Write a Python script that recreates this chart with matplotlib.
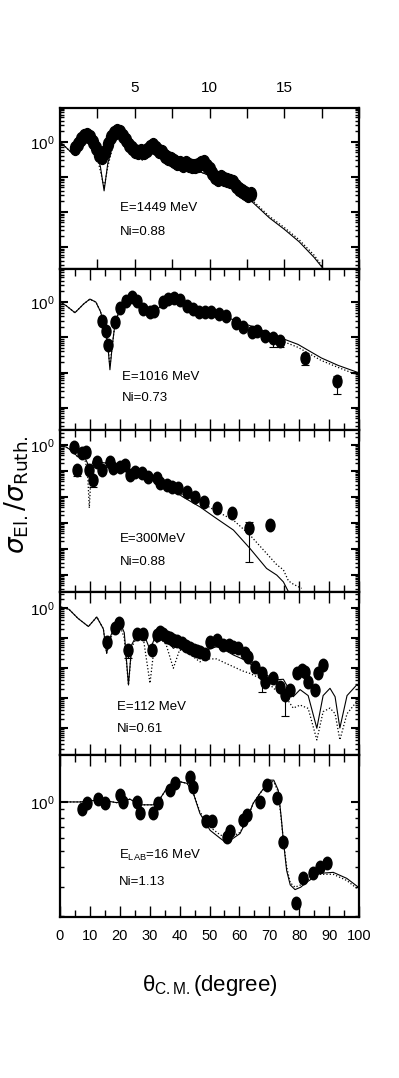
import numpy as np
import matplotlib
matplotlib.use('Agg')
import matplotlib.pyplot as plt
from matplotlib.path import Path
from matplotlib.ticker import MultipleLocator, LogLocator, FuncFormatter, NullFormatter

plt.rcParams['font.family'] = ['Liberation Sans', 'DejaVu Sans']
plt.rcParams['mathtext.fontset'] = 'custom'
plt.rcParams['mathtext.rm'] = 'Liberation Sans'
plt.rcParams['mathtext.it'] = 'Liberation Sans'
plt.rcParams['mathtext.sf'] = 'Liberation Sans'

# ---- E = 1449 MeV (angles on the top scale, 0-20 deg)
x1449 = [1.0, 1.2, 1.4, 1.6, 1.8, 2.0, 2.2, 2.4, 2.6, 2.8, 3.0, 3.2, 3.4, 3.6, 3.8, 4.0,
         4.2, 4.4, 4.6, 4.8, 5.0, 5.2, 5.4, 5.6, 5.8, 6.0, 6.2, 6.4, 6.6, 6.8, 7.0, 7.2,
         7.4, 7.6, 7.8, 8.0, 8.2, 8.4, 8.6, 8.8, 9.0, 9.2, 9.4, 9.6, 9.8, 10.0, 10.2,
         10.4, 10.6, 10.8, 11.0, 11.2, 11.4, 11.6, 11.8, 12.0, 12.2, 12.4, 12.6, 12.8]
y1449 = [0.65, 0.9, 1.2, 1.5, 1.55, 1.4, 1.0, 0.65, 0.42, 0.36, 0.5, 0.9, 1.4, 1.8, 2.0, 1.9,
         1.5, 1.1, 0.8, 0.65, 0.55, 0.5, 0.55, 0.5, 0.6, 0.7, 0.8, 0.65, 0.55, 0.5, 0.4, 0.35,
         0.32, 0.28, 0.25, 0.25, 0.22, 0.25, 0.22, 0.2, 0.2, 0.22, 0.25, 0.26, 0.2, 0.17, 0.13,
         0.1, 0.09, 0.1, 0.09, 0.08, 0.075, 0.07, 0.055, 0.045, 0.04, 0.035, 0.03, 0.032]
c1449_x = [0, 0.4, 0.8, 1.2, 1.6, 2.0, 2.4, 2.7, 2.95, 3.2, 3.6, 4.0, 4.5, 5.0, 5.5, 6.0,
           6.5, 7.0, 8.0, 9.0, 10.0, 11.0, 12.0, 13.0, 14.0, 15.0, 16.0, 17.0, 17.6]
c1449_s = [1.0, 0.7, 0.48, 0.8, 1.35, 1.2, 0.55, 0.2, 0.04, 0.25, 1.0, 1.8, 1.3, 0.6, 0.3, 0.5,
           0.55, 0.4, 0.24, 0.16, 0.11, 0.07, 0.042, 0.017, 0.0068, 0.0032, 0.0014, 0.0005, 0.00024]
c1449_d = [1.0, 0.7, 0.48, 0.8, 1.3, 1.15, 0.5, 0.15, 0.05, 0.2, 0.95, 1.75, 1.3, 0.6, 0.32, 0.5,
           0.55, 0.4, 0.24, 0.16, 0.11, 0.072, 0.045, 0.019, 0.0075, 0.0036, 0.0016, 0.00058, 0.00026]

# ---- E = 1016 MeV
x1016 = [14.2, 15.3, 16.2, 18.4, 20.1, 22.1, 24.0, 25.6, 27.9, 30.1, 31.4, 34.6, 36.2, 38.1,
         40.1, 42.4, 44.6, 46.5, 48.5, 50.4, 53.2, 55.5, 58.8, 61.3, 64.1, 66.0, 68.6, 71.4,
         73.6, 81.9, 92.5]
y1016 = [0.29, 0.15, 0.059, 0.27, 0.70, 1.09, 1.36, 1.09, 0.63, 0.51, 0.56, 0.98, 1.22, 1.27,
         1.16, 0.79, 0.63, 0.53, 0.53, 0.53, 0.45, 0.41, 0.26, 0.2, 0.14, 0.15, 0.11, 0.098,
         0.078, 0.026, 0.0056]
e1016_x = [71.4, 73.6, 81.9, 92.5]
e1016_y = [0.098, 0.078, 0.026, 0.0056]
e1016_lo = [0.054, 0.054, 0.016, 0.0025]
e1016_hi = [0.098, 0.078, 0.026, 0.0082]
c1016_x = [0, 2, 5, 8, 10, 12, 13.5, 15, 16, 16.7, 17.5, 18.4, 20, 21.2, 24, 26.8, 28.5, 30.7,
           32.5, 34.6, 38, 42, 46, 50, 55, 57.3, 62, 68.4, 74, 79.6, 87.4, 93, 100]
c1016_s = [1.0, 0.8, 0.5, 0.9, 1.22, 1.0, 0.55, 0.2, 0.06, 0.012, 0.06, 0.25, 0.65, 0.9, 1.3,
           1.0, 0.7, 0.45, 0.6, 0.98, 1.3, 0.85, 0.6, 0.52, 0.42, 0.33, 0.24, 0.15, 0.095,
           0.063, 0.026, 0.016, 0.0098]
c1016_d = [1.0, 0.8, 0.5, 0.9, 1.2, 1.0, 0.55, 0.2, 0.06, 0.015, 0.06, 0.25, 0.6, 0.85, 1.25,
           0.95, 0.65, 0.38, 0.55, 0.9, 1.2, 0.8, 0.55, 0.48, 0.38, 0.3, 0.21, 0.13, 0.08,
           0.052, 0.022, 0.014, 0.0082]

# ---- E = 300 MeV
x300 = [4.7, 5.8, 7.2, 8.7, 9.8, 10.9, 12.3, 13.9, 16.7, 17.8, 20.1, 21.7, 23.4, 25.1, 27.3,
        29.5, 32.3, 33.4, 35.7, 37.4, 39.6, 42.4, 45.2, 48.2, 52.6, 57.6, 63.3, 70.2]
y300 = [0.86, 0.11, 0.48, 0.55, 0.11, 0.045, 0.23, 0.11, 0.23, 0.13, 0.15, 0.17, 0.07, 0.094,
        0.081, 0.06, 0.052, 0.034, 0.029, 0.025, 0.022, 0.016, 0.01, 0.0066, 0.0037, 0.0025,
        0.00063, 0.00084]
e300_x = [5.8, 10.9, 63.3]
e300_y = [0.11, 0.045, 0.00063]
e300_lo = [0.064, 0.025, 3.2e-5]
e300_hi = [0.15, 0.045, 1.1e-3]
c300_x = [0, 2, 4, 6, 8, 9.2, 9.8, 10.4, 11.5, 13, 16, 20, 25, 30, 35, 41.2, 46.8, 52, 58,
          63.5, 69.1, 72.5, 74.7, 76.4, 78, 80.8]
c300_s = [0.9, 0.85, 0.6, 0.35, 0.4, 0.2, 0.08, 0.15, 0.3, 0.22, 0.2, 0.13, 0.08, 0.05, 0.03,
          0.01, 0.0042, 0.0016, 5.4e-4, 1.07e-4, 1.8e-5, 1e-5, 5.5e-6, 2.3e-6, 1e-6, 5e-7]
c300_d = [0.9, 0.85, 0.6, 0.35, 0.4, 0.1, 0.0038, 0.08, 0.3, 0.22, 0.2, 0.13, 0.08, 0.05, 0.03,
          0.012, 0.0066, 0.003, 0.0013, 3.5e-4, 6.8e-5, 2.5e-5, 1.6e-5, 6e-6, 4.5e-6, 3.1e-6]

# ---- E = 112 MeV
x112 = [15.6, 18.4, 19.8, 22.9, 25.6, 27.9, 30.7, 32.3, 33.4, 34.5, 35.7, 36.8, 37.9, 39.0,
        40.7, 42.0, 43.5, 44.8, 45.8, 46.8, 48.5, 50.2, 52.4, 54.6, 56.5, 58.0, 59.6, 61.9,
        63.0, 65.2, 67.5, 68.6, 71.3, 73.6, 75.3, 76.9, 79.2, 80.8, 82.0, 83.0, 85.3, 86.4, 88.1]
y112 = [0.075, 0.21, 0.31, 0.04, 0.14, 0.14, 0.04, 0.13, 0.16, 0.14, 0.11, 0.1, 0.086, 0.08,
        0.067, 0.055, 0.045, 0.04, 0.038, 0.035, 0.03, 0.075, 0.086, 0.058, 0.06, 0.051, 0.047,
        0.031, 0.024, 0.011, 0.0066, 0.0035, 0.0045, 0.0024, 0.0013, 0.0019, 0.0066, 0.0086,
        0.0075, 0.0035, 0.0019, 0.0066, 0.0126]
e112_x = [22.9, 67.5, 75.3]
e112_y = [0.04, 0.0066, 0.0013]
e112_lo = [0.022, 0.0016, 2.5e-4]
e112_hi = [0.04, 0.0066, 0.0013]
c112_x = [0, 3, 6, 9.5, 12.3, 14.5, 15.6, 17, 18.4, 19.8, 21.5, 22.9, 24, 25.6, 28, 30.1,
          31.5, 33.4, 35.5, 37.9, 40, 43, 46.8, 49, 52.4, 55, 58, 61, 63.5, 66, 69.1, 71.7,
          74.7, 78, 80.3, 83, 85.9, 88, 90.3, 92, 93.6, 96, 99.2, 100]
c112_s = [1.1, 0.9, 0.45, 0.24, 0.5, 0.2, 0.031, 0.12, 0.25, 0.37, 0.15, 0.0027, 0.06, 0.12,
          0.14, 0.04, 0.09, 0.14, 0.1, 0.045, 0.06, 0.05, 0.024, 0.04, 0.051, 0.04, 0.027,
          0.02, 0.014, 0.009, 0.0059, 0.004, 0.0042, 0.0011, 0.0019, 0.0012, 9.8e-5, 0.0012,
          0.0021, 0.0011, 1e-4, 0.0012, 0.0027, 0.0025]
c112_d = [1.1, 0.9, 0.45, 0.24, 0.5, 0.2, 0.031, 0.1, 0.2, 0.3, 0.1, 0.0027, 0.05, 0.1, 0.08,
          0.0031, 0.05, 0.1, 0.06, 0.0098, 0.04, 0.031, 0.016, 0.02, 0.02, 0.015, 0.011, 0.008,
          0.0066, 0.005, 0.0035, 0.002, 0.0014, 4.6e-4, 5.8e-4, 4.5e-4, 4e-5, 3.5e-4, 4.6e-4,
          3e-4, 4e-5, 3e-4, 7.5e-4, 7.5e-4]

# ---- E_LAB = 16 MeV
x16 = [7.2, 8.9, 12.8, 15.1, 20.1, 21.2, 25.6, 26.8, 31.2, 32.9, 36.8, 38.5, 43.5, 44.6, 48.8,
       50.7, 55.7, 56.9, 61.3, 62.4, 66.9, 69.1, 72.5, 74.7, 78.9, 81.2, 84.7, 87.0, 89.2]
y16 = [0.91, 0.98, 1.04, 0.98, 1.1, 1.0, 1.0, 0.85, 0.85, 0.98, 1.18, 1.3, 1.43, 1.24, 0.76,
       0.76, 0.61, 0.66, 0.78, 0.83, 1.0, 1.27, 1.05, 0.57, 0.24, 0.34, 0.365, 0.4, 0.42]
c16_x = [0, 6.7, 13.4, 19, 23.4, 26.8, 31.2, 33.5, 35.7, 40.1, 42.5, 44.6, 46.8, 50.2, 53.5,
         55.7, 58, 60.2, 62.5, 64.6, 66.9, 70.2, 71.5, 73, 74, 74.7, 75.8, 77, 78.6, 80.5,
         82.3, 86.9, 91.4, 95.9, 99.8]
c16_s = [1.0, 1.0, 1.03, 0.99, 1.04, 0.96, 0.96, 1.05, 1.21, 1.33, 1.3, 1.13, 0.85, 0.67, 0.6,
         0.56, 0.6, 0.64, 0.78, 0.98, 1.13, 1.36, 1.36, 1.18, 0.8, 0.58, 0.38, 0.31, 0.29, 0.3,
         0.32, 0.365, 0.37, 0.34, 0.3]
c16_d = [1.0, 1.0, 1.03, 0.99, 1.04, 0.96, 0.96, 1.05, 1.21, 1.33, 1.3, 1.13, 0.87, 0.7, 0.63,
         0.6, 0.62, 0.65, 0.78, 0.98, 1.13, 1.33, 1.33, 1.15, 0.78, 0.58, 0.4, 0.32, 0.3, 0.31,
         0.33, 0.36, 0.36, 0.33, 0.29]

top_ticks = [5, 10, 15]
labels = [('E=1449 MeV', 'Ni=0.88'), ('E=1016 MeV', 'Ni=0.73'), ('E=300MeV', 'Ni=0.88'),
          ('E=112 MeV', 'Ni=0.61'), (r'E$_{\mathrm{LAB}}$=16 MeV', 'Ni=1.13')]

# ellipse marker (taller than wide)
circ = Path.unit_circle()
ell = Path(circ.vertices * np.array([0.72, 1.0]), circ.codes)

W, H = 399, 1078
fig = plt.figure(figsize=(W / 100, H / 100), dpi=100)
edges = [108, 269, 430, 592, 755, 917]
ylims = [(2.34e-4, 9.33), (2.34e-4, 8.7), (2.24e-6, 3.8), (1.26e-5, 3.39), (0.197, 1.94)]
text_y = [(208, 232), (377, 398), (539, 562), (707, 729), (855, 882)]
text_x = [120, 122, 120, 117, 119]

panels = [
    (x1449, y1449, None, c1449_x, c1449_s, c1449_d),
    (x1016, y1016, (e1016_x, e1016_y, e1016_lo, e1016_hi), c1016_x, c1016_s, c1016_d),
    (x300, y300, (e300_x, e300_y, e300_lo, e300_hi), c300_x, c300_s, c300_d),
    (x112, y112, (e112_x, e112_y, e112_lo, e112_hi), c112_x, c112_s, c112_d),
    (x16, y16, None, c16_x, c16_s, c16_d),
]

def only_one(v, pos):
    if abs(v - 1) < 1e-9:
        return r'$10^0$'
    return ''

def top_fmt(v, pos):
    if round(v) in top_ticks and abs(v - round(v)) < 1e-9:
        return '%d' % round(v)
    return ''

for i, (xd, yd, err, cx, cs, cd) in enumerate(panels):
    top, bot = edges[i], edges[i + 1]
    ax = fig.add_axes([60 / W, 1 - bot / H, 299 / W, (bot - top) / H])
    ax.plot(cx, cs, '-', color='black', lw=0.8)
    ax.plot(cx, cd, ':', color='black', lw=0.9)
    if err is not None:
        ex, ey, elo, ehi = err
        ey = np.array(ey)
        ax.errorbar(ex, ey, yerr=[ey - np.array(elo), np.array(ehi) - ey], fmt='none',
                    ecolor='black', elinewidth=0.8, capsize=3, capthick=0.8)
    ms = 10 if i == 0 else 9
    ax.plot(xd, yd, linestyle='none', marker=ell, markersize=ms, color='black')
    ax.set_yscale('log')
    ax.set_ylim(*ylims[i])
    ax.yaxis.set_major_locator(LogLocator(base=10, numticks=20))
    ax.yaxis.set_minor_locator(LogLocator(base=10, subs=np.arange(2, 10), numticks=20))
    ax.yaxis.set_major_formatter(FuncFormatter(only_one))
    ax.yaxis.set_minor_formatter(NullFormatter())
    if i == 0:
        ax.set_xlim(0, 20)
        ax.xaxis.set_major_locator(MultipleLocator(5))
        ax.xaxis.set_minor_locator(MultipleLocator(2.5))
        ax.xaxis.set_major_formatter(FuncFormatter(top_fmt))
        ax.tick_params(axis='x', which='both', length=7, width=1.0)
        ax.tick_params(axis='x', labeltop=True, labelbottom=False, labelsize=11, pad=9)
    else:
        ax.set_xlim(0, 100)
        ax.xaxis.set_major_locator(MultipleLocator(10))
        ax.xaxis.set_minor_locator(MultipleLocator(5))
        ax.tick_params(axis='x', which='major', length=8, width=1.0)
        ax.tick_params(axis='x', which='minor', length=5, width=1.0)
        if i == 4:
            ax.tick_params(axis='x', labelbottom=True, labelsize=10.5, pad=9)
        else:
            ax.tick_params(axis='x', labelbottom=False)
    ax.tick_params(axis='both', which='both', direction='in', top=True, right=True)
    ax.tick_params(axis='y', which='major', length=6, width=1.5, labelsize=11, pad=4)
    ax.tick_params(axis='y', which='minor', length=3, width=1.0)
    for sp in ax.spines.values():
        sp.set_linewidth(1.6)
    ty1, ty2 = text_y[i]
    fig.text(text_x[i] / W, 1 - ty1 / H, labels[i][0], fontsize=9.5, va='center', ha='left')
    fig.text(text_x[i] / W, 1 - ty2 / H, labels[i][1], fontsize=9.5, va='center', ha='left')

fig.text(17 / W, 1 - 495 / H, r'$\sigma_{\mathrm{El.}}/\sigma_{\mathrm{Ruth.}}$', rotation=90,
         ha='center', va='center', fontsize=19, math_fontfamily='dejavusans')
fig.text(210 / W, 1 - 985 / H, r'$\theta_{\mathrm{C.M.}}$(degree)', ha='center',
         va='center', fontsize=16)

fig.savefig('out.png', dpi=100)
